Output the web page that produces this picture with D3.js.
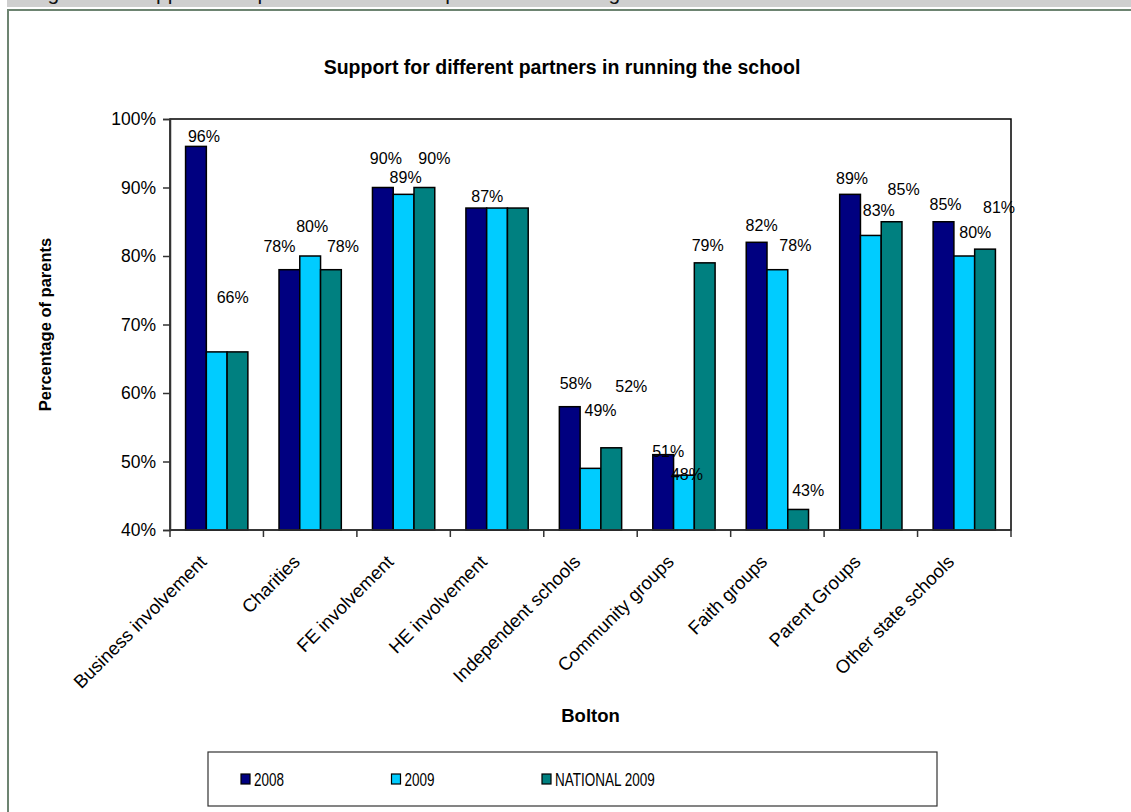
<!DOCTYPE html>
<html>
<head>
<meta charset="utf-8">
<script src="https://cdn.jsdelivr.net/npm/d3@7"></script>
<style>
  body { margin: 0; background: #fff; }
  svg { display: block; font-family: Arial, "Liberation Sans", sans-serif; }
</style>
</head>
<body>
<svg id="chart" width="1131" height="812"></svg>
<script>
// ---- data ----
const categories = [
  "Business involvement", "Charities", "FE involvement", "HE involvement",
  "Independent schools", "Community groups", "Faith groups", "Parent Groups",
  "Other state schools"
];
const seriesNames = ["2008", "2009", "NATIONAL 2009"];
const values2008 = [96, 78, 90, 87, 58, 51, 82, 89, 85];
const values2009 = [66, 80, 89, 87, 49, 48, 78, 83, 80];
const valuesNational2009 = [66, 78, 90, 87, 52, 79, 43, 85, 81];
const yTickValues = [40, 50, 60, 70, 80, 90, 100];

const chartTitle = "Support for different partners in running the school";
const yTitle = "Percentage of parents";
const xTitle = "Bolton";
const caption = "Figure 3.1  Support from parents for different partners in running the school";

// ---- styling / layout ----
const colors = ["#000080", "#00CCFF", "#008080"];
const plot = { left: 170, right: 1011, top: 119, bottom: 530 };

// label offsets relative to the top-centre of each bar: [dx, rise]
const labelNudge = [
  [[8, 10], [16, 55], [-4, 55]],
  [[-10, 23], [2, 30], [12, 23]],
  [[3, 29], [2, 17], [10, 29]],
  [[11, 12], [-10, 12], [-31, 12]],
  [[6, 23], [10, 58], [20, 62]],
  [[5, 3], [3, 1], [3, 18]],
  [[5, 17], [18, 24], [10, 19]],
  [[2, 16], [8, 25], [12, 32]],
  [[2, 17], [11, 24], [14, 42]]
];

const rows = categories.map((c, i) => ({
  category: c,
  values: [values2008[i], values2009[i], valuesNational2009[i]]
}));

const svg = d3.select("#chart");

// page background strip with caption, clipped to the strip
svg.append("clipPath").attr("id", "capClip")
  .append("rect").attr("x", 7).attr("y", 0).attr("width", 1124).attr("height", 7);
svg.append("rect").attr("x", 7).attr("y", 0).attr("width", 1124).attr("height", 7)
  .attr("fill", "#cfcfcf");
svg.append("text").attr("clip-path", "url(#capClip)")
  .attr("x", 30).attr("y", 0).attr("font-size", 21).attr("fill", "#111")
  .text(caption);

// outer chart frame
svg.append("line").attr("x1", 7).attr("x2", 1131).attr("y1", 10).attr("y2", 10)
  .attr("stroke", "#6d8471").attr("stroke-width", 2);
svg.append("line").attr("x1", 8).attr("x2", 8).attr("y1", 9).attr("y2", 812)
  .attr("stroke", "#6d8471").attr("stroke-width", 2);

// scales
const x = d3.scaleBand().domain(categories).range([plot.left, plot.right])
  .paddingInner(0).paddingOuter(0);
const xs = d3.scaleBand().domain(seriesNames).range([0, x.bandwidth()])
  .paddingInner(0).paddingOuter(0.75);
const y = d3.scaleLinear().domain([40, 100]).range([plot.bottom, plot.top]);

// plot border
svg.append("rect")
  .attr("x", plot.left).attr("y", plot.top)
  .attr("width", plot.right - plot.left).attr("height", plot.bottom - plot.top)
  .attr("fill", "none").attr("stroke", "#000").attr("stroke-width", 1.5);

// y axis
const yAxis = svg.append("g")
  .attr("transform", `translate(${plot.left},0)`)
  .call(d3.axisLeft(y).tickValues(yTickValues).tickFormat(d => d + "%")
    .tickSize(7).tickPadding(7));
yAxis.select(".domain").attr("stroke", "#333").attr("stroke-width", 1.5);
yAxis.selectAll(".tick line").attr("stroke", "#333").attr("stroke-width", 1.5);
yAxis.selectAll(".tick text").attr("font-size", 17.5).attr("fill", "#000")
  .attr("font-family", "Arial, 'Liberation Sans', sans-serif");

// bars
const groups = svg.append("g").selectAll("g").data(rows).join("g")
  .attr("transform", d => `translate(${x(d.category)},0)`);
groups.selectAll("rect")
  .data(d => d.values.map((v, j) => ({ v, j, name: seriesNames[j] })))
  .join("rect")
  .attr("x", d => xs(d.name))
  .attr("y", d => y(d.v))
  .attr("width", xs.bandwidth())
  .attr("height", d => y(40) - y(d.v))
  .attr("fill", d => colors[d.j])
  .attr("stroke", "#000").attr("stroke-width", 1.5);

// x axis line and category boundary ticks
svg.append("line").attr("x1", plot.left).attr("x2", plot.right)
  .attr("y1", plot.bottom).attr("y2", plot.bottom)
  .attr("stroke", "#333").attr("stroke-width", 1.5);
const boundaries = categories.map(c => x(c)).concat([plot.right]);
svg.append("g").selectAll("line").data(boundaries).join("line")
  .attr("x1", d => d).attr("x2", d => d)
  .attr("y1", plot.bottom).attr("y2", plot.bottom + 7)
  .attr("stroke", "#333").attr("stroke-width", 1.5);

// category labels
svg.append("g").selectAll("text").data(categories).join("text")
  .attr("transform", c => `translate(${x(c) + x.bandwidth() / 2 - 9},${plot.bottom + 33}) rotate(-45)`)
  .attr("text-anchor", "end")
  .attr("font-size", 18.5)
  .attr("fill", "#000")
  .text(c => c);

// value labels; labels that land on the same spot with the same text are drawn once
const labels = [];
const seen = new Set();
rows.forEach((r, i) => r.values.forEach((v, j) => {
  const cx = x(r.category) + xs(seriesNames[j]) + xs.bandwidth() / 2 + labelNudge[i][j][0];
  const cy = y(v) - labelNudge[i][j][1];
  const key = `${Math.round(cx / 4)}|${Math.round(cy)}|${v}`;
  if (seen.has(key)) return;
  seen.add(key);
  labels.push({ v, cx, cy });
}));
svg.append("g").selectAll("text").data(labels).join("text")
  .attr("x", d => d.cx).attr("y", d => d.cy + 5.7)
  .attr("text-anchor", "middle").attr("font-size", 16).attr("fill", "#000")
  .text(d => d.v + "%");

// titles
svg.append("text").attr("x", 562).attr("y", 74).attr("text-anchor", "middle")
  .attr("font-size", 19.5).attr("font-weight", "bold").text(chartTitle);
svg.append("text").attr("x", (plot.left + plot.right) / 2).attr("y", 722)
  .attr("text-anchor", "middle").attr("font-size", 18.5).attr("font-weight", "bold")
  .text(xTitle);
svg.append("text")
  .attr("transform", `translate(51,${(plot.top + plot.bottom) / 2}) rotate(-90)`)
  .attr("text-anchor", "middle").attr("font-size", 16.5).attr("font-weight", "bold")
  .text(yTitle);

// legend
const legend = svg.append("g");
legend.append("rect").attr("x", 208).attr("y", 752).attr("width", 729).attr("height", 54)
  .attr("fill", "#fff").attr("stroke", "#333").attr("stroke-width", 1.2);
const legendX = d3.scalePoint().domain(seriesNames).range([241, 542]);
const items = legend.selectAll("g.item").data(seriesNames).join("g")
  .attr("class", "item")
  .attr("transform", d => `translate(${legendX(d)},779)`);
items.append("rect").attr("x", 0).attr("y", -5).attr("width", 9).attr("height", 10)
  .attr("fill", (d, i) => colors[i]).attr("stroke", "#000").attr("stroke-width", 1.2);
items.append("text")
  .attr("transform", "translate(13,6.5) scale(0.75,1)")
  .attr("font-size", 18).attr("fill", "#000")
  .text(d => d);
</script>
</body>
</html>
